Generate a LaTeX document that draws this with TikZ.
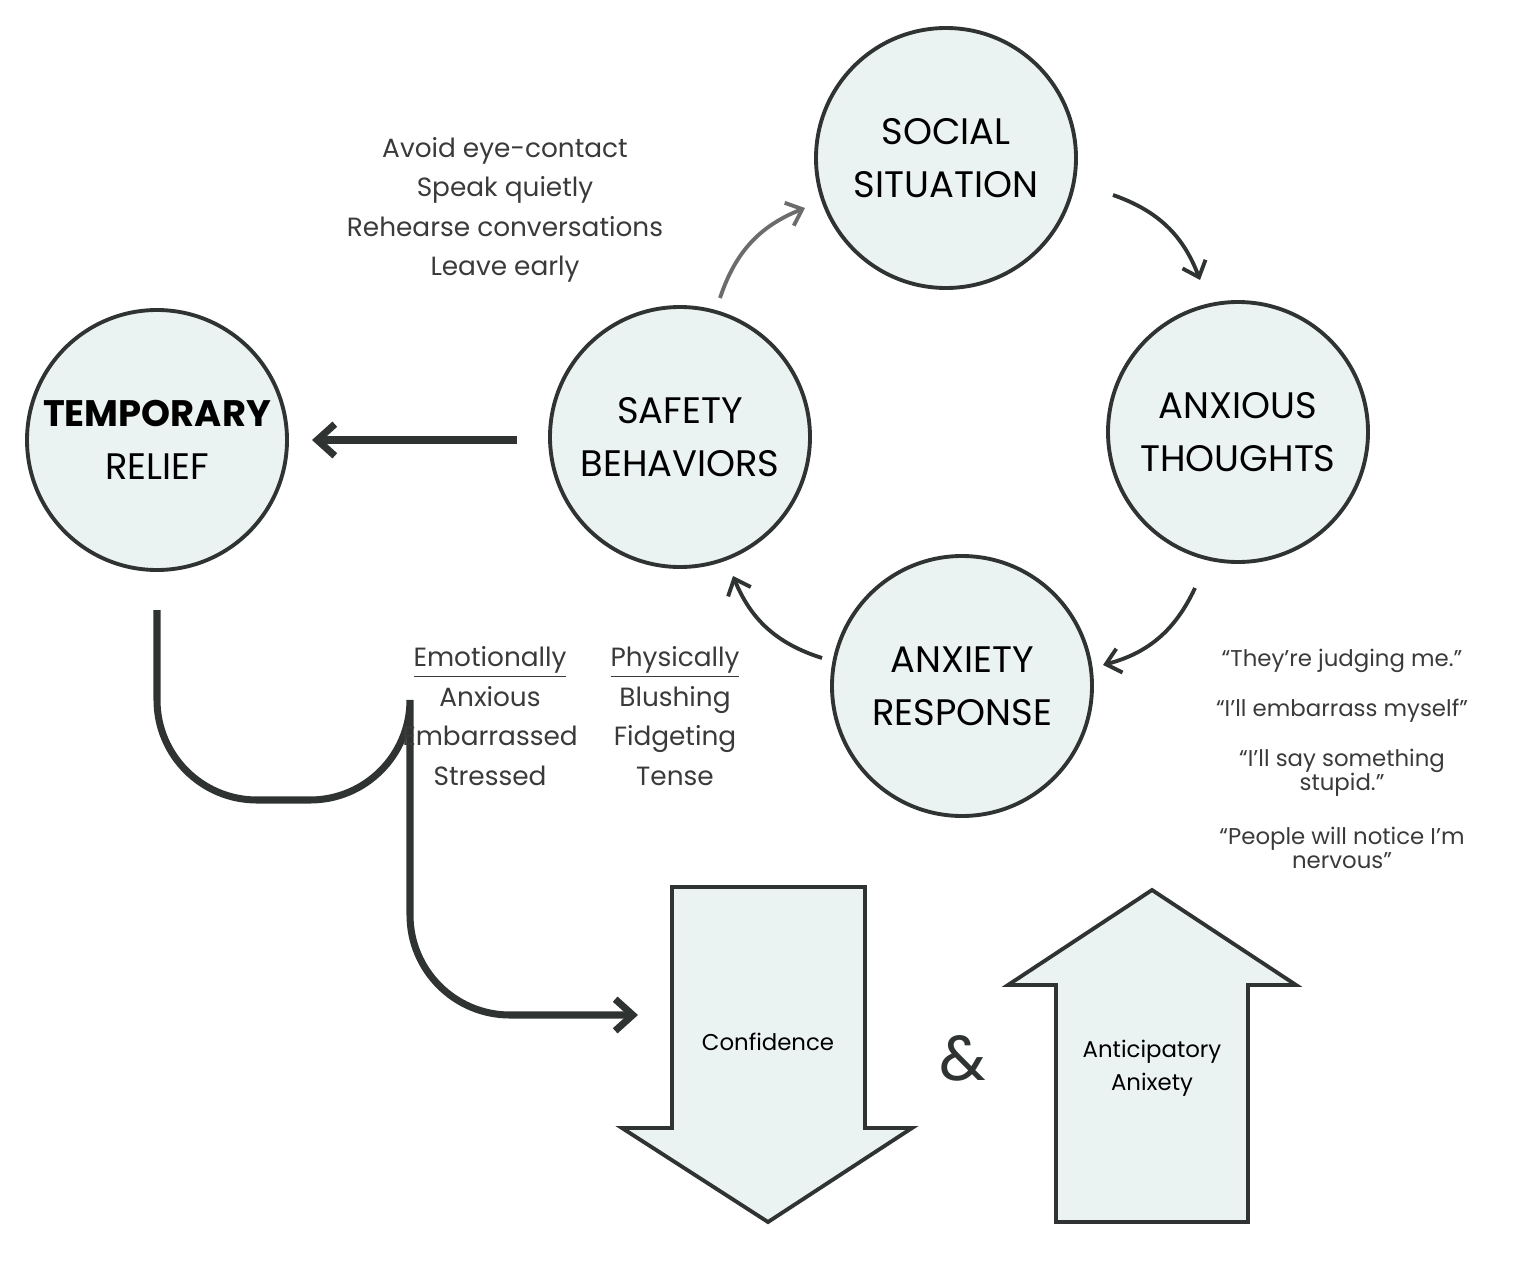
\documentclass[tikz,border=0pt]{standalone}
\usepackage{fontspec}
\setmainfont{Poppins}
\usetikzlibrary{arrows.meta}
\definecolor{fillc}{HTML}{EAF3F1}
\definecolor{linec}{HTML}{2F3433}
\definecolor{txtc}{HTML}{3A3A3A}
\begin{document}
\begin{tikzpicture}[x=0.02cm,y=-0.02cm,
 circ/.style={circle,draw=linec,line width=2.2pt,fill=fillc,minimum size=260*0.02cm,inner sep=0pt,align=center,font=\fontsize{21}{30}\selectfont},
 cyc/.style={draw=linec,line width=2.2pt,-{Straight Barb[length=8pt,width=14pt]}},
 lst/.style={align=center,font=\fontsize{15}{22.5}\selectfont,text=txtc},
 qt/.style={align=center,font=\fontsize{13}{13.5}\selectfont,text=txtc}]
\useasboundingbox (0,0) rectangle (1517,1264);
\node[circ] (soc) at (946,158) {SOCIAL\\SITUATION};
\node[circ] (anx) at (1238,432) {ANXIOUS\\THOUGHTS};
\node[circ] (res) at (962,686) {ANXIETY\\RESPONSE};
\node[circ] (saf) at (680,437) {SAFETY\\BEHAVIORS};
\node[circ] (rel) at (157,440) {\textbf{TEMPORARY}\\RELIEF};
\coordinate (a1) at (720,298); \coordinate (a2) at (805,208);
\coordinate (b1) at (1113,195); \coordinate (b2) at (1200,280);
\coordinate (c1) at (1195,588); \coordinate (c2) at (1103,665);
\coordinate (d1) at (822,658); \coordinate (d2) at (733,576);
\draw[cyc,draw=gray!85!black] (a1) to[bend left=25] (a2);
\draw[cyc] (b1) to[bend left=25] (b2);
\draw[cyc] (c1) to[bend left=25] (c2);
\draw[cyc] (d1) to[bend left=25] (d2);
\coordinate (e1) at (517,440); \coordinate (e2) at (312,440);
\draw[linec,line width=4pt,-{Straight Barb[length=10pt,width=18pt]}] (e1) -- (e2);
\coordinate (f1) at (157,610); \coordinate (f2) at (638,1015);
\draw[linec,line width=4pt,-{Straight Barb[length=10pt,width=18pt]}] (f1) -- (157,700) arc[start angle=180,end angle=90,radius=100] -- (310,800) arc[start angle=90,end angle=0,radius=100] -- (410,915) arc[start angle=180,end angle=90,radius=100] -- (f2);
\node[lst] (sb) at (505,210) {Avoid eye-contact\\Speak quietly\\Rehearse conversations\\Leave early};
\node[lst] (em) at (490,716) {\underline{Emotionally}\\Anxious\\Embarrassed\\Stressed};
\node[lst] (ph) at (675,716) {\underline{Physically}\\Blushing\\Fidgeting\\Tense};
\node[qt] (q1) at (1342,661) {“They’re judging me.”};
\node[qt] (q2) at (1342,711) {“I’ll embarrass myself”};
\node[qt] (q3) at (1342,773) {“I’ll say something\\stupid.”};
\node[qt] (q4) at (1342,848) {“People will notice I’m\\nervous”};
\draw[linec,line width=2.2pt,fill=fillc] (672,887) -- (865,887) -- (865,1128) -- (912,1128) -- (768,1222) -- (622,1128) -- (672,1128) -- cycle;
\draw[linec,line width=2.2pt,fill=fillc] (1152,890) -- (1296,985) -- (1248,985) -- (1248,1222) -- (1056,1222) -- (1056,985) -- (1008,985) -- cycle;
\node[font=\fontsize{13}{16}\selectfont] (conf) at (768,1042) {Confidence};
\node[font=\fontsize{13}{19}\selectfont,align=center] (ant) at (1152,1068) {Anticipatory\\Anixety};
\node[font=\fontsize{36}{40}\selectfont,text=linec] (amp) at (963,1058) {\&};
\end{tikzpicture}
\end{document}
